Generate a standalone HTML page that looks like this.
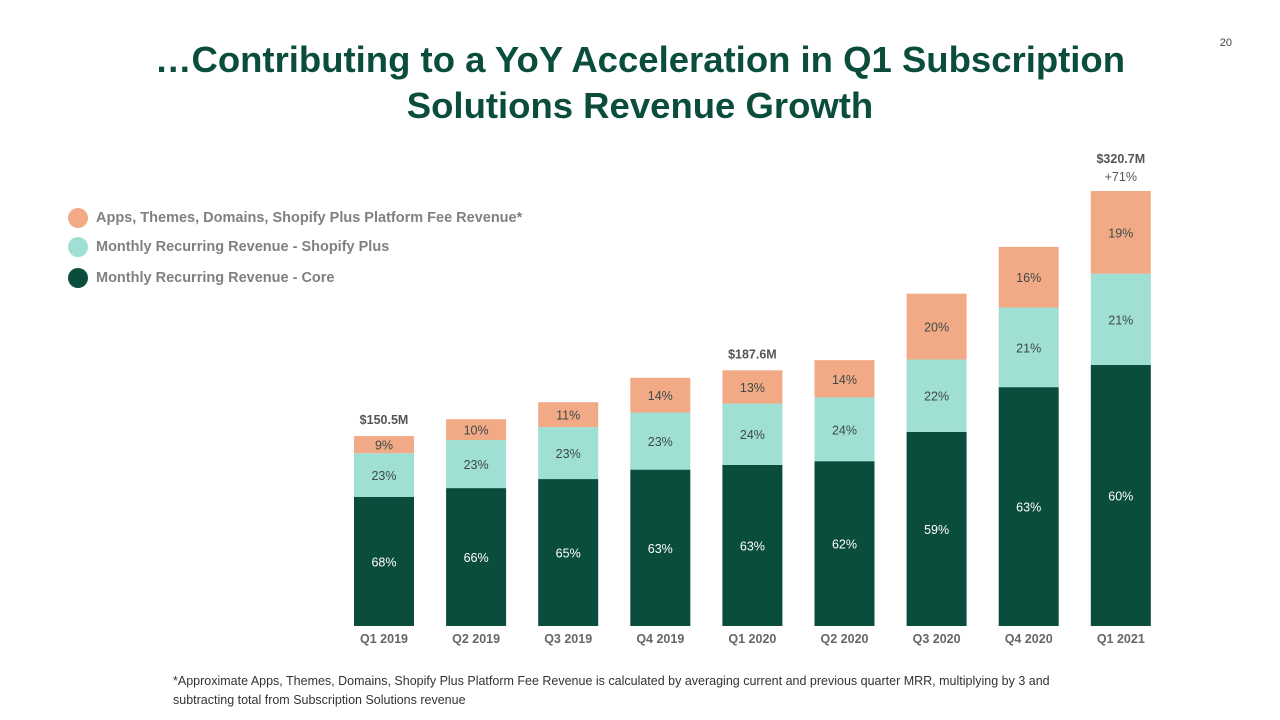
<!DOCTYPE html>
<html><head><meta charset="utf-8"><style>
body{margin:0;width:1280px;height:720px;background:#fff;font-family:"Liberation Sans",sans-serif;overflow:hidden;position:relative}
.title{position:absolute;left:0;width:1280px;top:37px;text-align:center;color:#0b4d3c;font-weight:bold;font-size:36.5px;line-height:46px}
.pg{position:absolute;right:48px;top:37px;font-size:11px;color:#444}
.leg{position:absolute;left:68px;font-size:14.5px;font-weight:bold;color:#808080;display:flex;align-items:center}
.leg i{display:inline-block;width:20px;height:20px;border-radius:50%;margin-right:8px}
.foot{position:absolute;left:173px;top:672px;font-size:12.5px;color:#333;line-height:19px}
</style></head><body>
<div class="title">…Contributing to a YoY Acceleration in Q1 Subscription<br>Solutions Revenue Growth</div>
<div class="pg">20</div>
<div class="leg" style="top:208px"><i style="background:#f2a985"></i>Apps, Themes, Domains, Shopify Plus Platform Fee Revenue*</div>
<div class="leg" style="top:237px"><i style="background:#9fdfd4"></i>Monthly Recurring Revenue - Shopify Plus</div>
<div class="leg" style="top:268px"><i style="background:#0b4d3c"></i>Monthly Recurring Revenue - Core</div>
<svg id="chart" width="1280" height="720" style="position:absolute;left:0;top:0"></svg>
<div class="foot">*Approximate Apps, Themes, Domains, Shopify Plus Platform Fee Revenue is calculated by averaging current and previous quarter MRR, multiplying by 3 and<br>subtracting total from Subscription Solutions revenue</div>
<script>
const categories=["Q1 2019","Q2 2019","Q3 2019","Q4 2019","Q1 2020","Q2 2020","Q3 2020","Q4 2020","Q1 2021"];
const totals=[140,152.5,165,183,188.5,196,245,279.5,320.7];
const corePct=[68,66,65,63,63,62,59,63,60];
const plusPct=[23,23,23,23,24,24,22,21,21];
const appsPct=[9,10,11,14,13,14,20,16,19];
const totalLabels={0:"$150.5M",4:"$187.6M",8:"$320.7M"};
const growthLabels={8:"+71%"};
const svg=document.getElementById('chart');
const NS="http://www.w3.org/2000/svg";
const base=626,scale=435/320.7,x0=354,step=92.1,bw=60;
const xs=i=>x0+i*step;
const hs=v=>v*scale;
function mk(t,a){const e=document.createElementNS(NS,t);for(const k in a)e.setAttribute(k,a[k]);svg.appendChild(e);return e;}
categories.forEach((c,i)=>{
  const sum=corePct[i]+plusPct[i]+appsPct[i];
  const H=hs(totals[i]);
  const segs=[[corePct[i],"#0b4d3c","#fff","core"],[plusPct[i],"#9fdfd4","#3d4a47","plus"],[appsPct[i],"#f2a985","#3d4a47","apps"]];
  let y=base;
  segs.forEach(s=>{
    const h=H*s[0]/sum;y-=h;
    const r=mk('rect',{x:xs(i),y:y,width:bw,height:h,fill:s[1]});
    
    
    const t=mk('text',{x:xs(i)+bw/2,y:y+h/2+5,'text-anchor':'middle','font-size':12.5,fill:s[2]});
    t.textContent=s[0]+'%';
    
    
  });
  const l=mk('text',{x:xs(i)+bw/2,y:643,'text-anchor':'middle','font-size':12.5,fill:'#666','font-weight':'bold'});
  l.textContent=c;
  
  
  if(totalLabels[i]){
    const off=growthLabels[i]?28:12;
    const t=mk('text',{x:xs(i)+bw/2,y:base-H-off,'text-anchor':'middle','font-size':12.5,fill:'#555','font-weight':'bold'});
    t.textContent=totalLabels[i];
    
    
  }
  if(growthLabels[i]){
    const t=mk('text',{x:xs(i)+bw/2,y:base-H-10,'text-anchor':'middle','font-size':12.5,fill:'#555'});
    t.textContent=growthLabels[i];
    
    
  }
});
</script>
</body></html>
